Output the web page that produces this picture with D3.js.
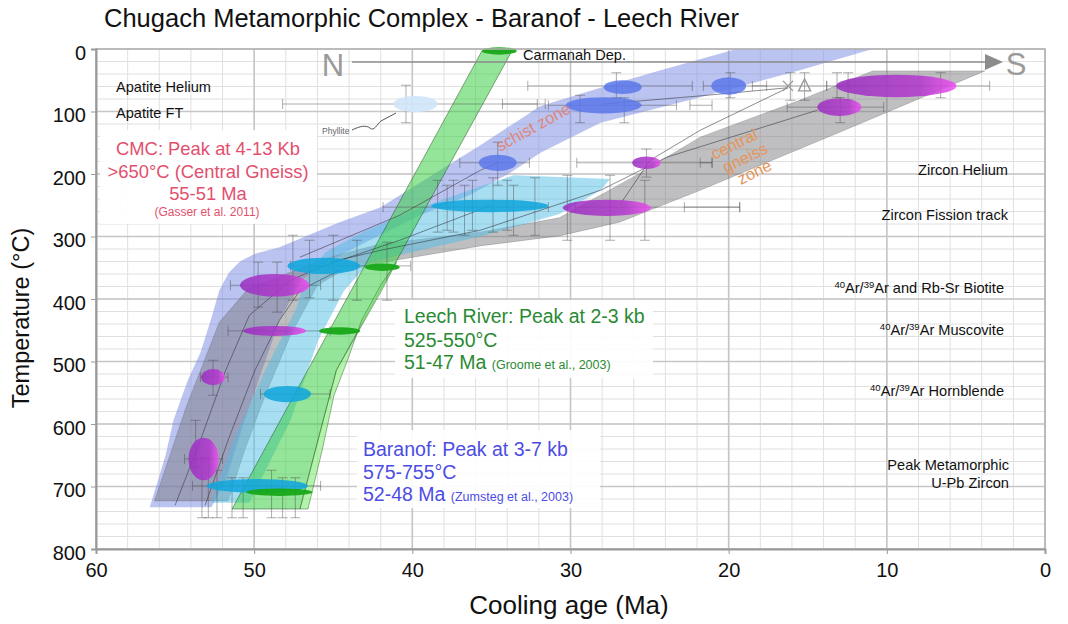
<!DOCTYPE html>
<html>
<head>
<meta charset="utf-8">
<script src="https://cdn.jsdelivr.net/npm/d3@7/dist/d3.min.js"></script>
<style>
  body { margin: 0; background: #fff; }
  svg { display: block; font-family: "Liberation Sans", Arial, Helvetica, sans-serif; }
</style>
</head>
<body>
<svg id="chart" width="1068" height="624"></svg>
<script>
// ---------- axes ----------
const ageTicks = [60, 50, 40, 30, 20, 10, 0];
const tempTicks = [0, 100, 200, 300, 400, 500, 600, 700, 800];

// ---------- cooling paths (age Ma, temperature °C) ----------
const schistZoneBand = [
  [56.6,733],[55.6,650],[55.1,594],[54.2,530],[53.4,486],[52.7,430],[52.2,386],[51.6,358],[50.9,340],
  [49.9,327],[48.4,317],[44.6,277],[42.0,253],
  [38.25,194],[35.7,154],[31.9,91],[28.1,62],[24.3,34],[19.5,0],[10.9,0],
  [15.5,34],[21.8,77],[28.1,118],[31.9,166],[33.8,198],[36.4,234],[39.5,266],[42.7,306],
  [45.8,346],[47.1,373],[48.4,434],[49.5,514],[50.6,594],[51.8,690],[52.7,733]
];
const gneissZoneBand = [
  [56.3,723],[54.3,573],[52.2,437],[50.4,384],[47.7,357],[45.2,333],[42.0,312],[35.7,293],
  [30.7,270],[26.05,205],[21.8,141],[15.5,82],[10.9,35],[3.8,35],
  [12.3,126],[21.8,226],[26.9,277],[30.7,299],[35.7,315],[42.0,342],[44.6,357],[46.0,378],
  [47.7,458],[49.3,554],[50.6,642],[51.65,723]
];
const baranofBand = [
  [33.6,202],[27.5,208],[28.1,226],[30.7,264],[35.7,300],[39.5,322],[42.7,341],[44.3,386],[45.96,466],
  [47.7,594],[50.3,726],[52.7,726],[51.3,626],[49.3,514],[47.3,413],[46.8,370],[45.5,325],
  [42.9,290],[39.5,254],[36.4,226]
];
const leechRiverBand = [
  [35.6,3],[33.7,3],[44.8,514],[47.1,736],[51.4,736]
];
const leechRiverEdge = [
  [41.0,341],[42.0,378],[43.2,434],[44.1,498],[44.95,554],[45.7,642],[46.6,736],
  [47.1,736],[45.8,610],[44.8,514],[43.5,456],[42.0,389]
];

// ---------- connecting paths between samples ----------
const pathLines = [
  [[55.0,730],[53.4,626],[51.8,514],[50.3,426],[47.7,370],[45.6,347],[40.8,306],[35.1,251]],
  [[53.1,730],[51.65,626],[49.95,514],[48.4,434],[47.1,386],[44.6,354]],
  [[47.1,333],[40.8,266],[35.7,194],[34.6,182]],
  [[27.9,88],[21.8,75],[16.25,62]],
  [[16.25,62],[21.8,130],[24.97,178],[26.9,250]],
  [[14.4,98],[23.9,173],[28.1,226],[35.7,290],[42.0,322],[45.2,341]]
];

// ---------- samples: [age, temp, age half-width, temp half-width] ----------
const leechRiverAges = [[34.5,3,1.1,6],[41.9,349,1.1,6],[44.6,451,1.3,6],[48.4,709,2.1,6]];
const phylliteAges   = [[39.8,88,1.4,13]];
const schistAges     = [[26.7,61,1.2,11],[27.9,90,2.4,13],[20.0,59,1.1,14],[34.6,182,1.2,13]];
const gneissAges     = [[9.4,59,3.8,18],[13.0,93,1.4,14],[25.2,182,0.9,10],[27.7,254,2.8,13],
                        [48.7,378,2.2,18],[48.7,451,2.0,8],[52.6,525,0.75,13],[53.2,656,0.95,34]];
const baranofAges    = [[35.1,251,3.7,10],[45.6,347,2.3,13],[47.9,552,1.5,13],[49.8,699,3.2,11]];
const otherAges      = [[16.25,59,'x'],[15.2,59,'tri']];

// ---------- uncertainties ----------
// horizontal: [temp, age from, age to]
const ageErrors = [
  [88,48.2,31.6],[88,34.3,32.1],[59,32.7,22.3],[59,21.6,17.6],[59,18.5,13.8],[59,13.8,3.5],
  [90,31.4,23.3],[90,22.45,21.05],[93,16.3,10.2],[182,37.0,32.6],[182,29.6,21.05],[182,21.8,21.05],
  [253,41.85,31.4],[253,29.7,19.3],[253,22.8,19.3],[378,51.5,45.8],[451,51.65,45.2],[347,47.7,40.1],
  [525,53.4,51.65],[699,53.9,45.8],[656,54.4,52.0],[552,49.6,45.2]
];
// vertical: [age, temp from, temp to]
const tempErrors = [
  [40.4,58,118],[27.1,38,78],[29.4,74,118],[26.6,78,118],[19.9,38,78],[34.6,149,218],
  [25.2,160,205],[12.45,38,82],[12.95,78,118],[13.15,38,78],[6.6,38,78],[16.1,38,82],[15.2,38,82],
  [38.4,210,293],[37.8,218,290],[37.4,210,293],[36.7,218,298],[36.2,210,290],[34.9,206,293],
  [34.0,210,290],[33.6,218,298],[32.25,206,298],[30.2,202,306],[27.5,202,306],[25.3,210,306],
  [47.55,298,402],[46.5,306,398],[45.0,298,402],[43.5,306,402],[41.6,309,402],
  [49.75,341,413],[48.55,341,421],[52.6,498,554],[53.7,594,669],
  [53.3,654,750],[52.9,654,750],[52.35,674,750],[51.4,686,750],[50.7,686,750],
  [48.9,674,750],[48.2,686,750],[47.4,686,750]
];

// ---------- chart ----------
const x = d3.scaleLinear().domain([60, 0]).range([96, 1045]);
const y = d3.scaleLinear().domain([0, 800]).range([49, 549]);
const svg = d3.select('#chart');

const defs = svg.append('defs');
const mg = defs.append('linearGradient').attr('id', 'gneissFill').attr('x1', 0).attr('x2', 1).attr('y1', 0).attr('y2', 0);
mg.append('stop').attr('offset', '0%').attr('stop-color', '#9a2ec2');
mg.append('stop').attr('offset', '70%').attr('stop-color', '#b236cc');
mg.append('stop').attr('offset', '100%').attr('stop-color', '#f04ef2');

// graph-paper grid
const grid = svg.append('g');
grid.selectAll('.vmin').data(d3.range(0, 61, 2)).join('line')
  .attr('x1', d => x(d)).attr('x2', d => x(d)).attr('y1', y(0)).attr('y2', y(800))
  .attr('stroke', '#e0e0e0').attr('stroke-width', 1);
grid.selectAll('.hmin').data(d3.range(0, 801, 20)).join('line')
  .attr('y1', d => y(d)).attr('y2', d => y(d)).attr('x1', x(60)).attr('x2', x(0))
  .attr('stroke', '#e0e0e0').attr('stroke-width', 1);
grid.selectAll('.vmaj').data(ageTicks).join('line')
  .attr('x1', d => x(d)).attr('x2', d => x(d)).attr('y1', y(0)).attr('y2', y(800))
  .attr('stroke', '#c6c6c6').attr('stroke-width', 1.6);
grid.selectAll('.hmaj').data(tempTicks).join('line')
  .attr('y1', d => y(d)).attr('y2', d => y(d)).attr('x1', x(60)).attr('x2', x(0))
  .attr('stroke', '#c6c6c6').attr('stroke-width', 1.6);

// white panels behind the annotations
const panels = svg.append('g').attr('fill', '#fff').attr('opacity', 0.93);
panels.append('rect').attr('x', 100).attr('y', 130).attr('width', 217).attr('height', 94);
panels.append('rect').attr('x', 395).attr('y', 300).attr('width', 258).attr('height', 78);
panels.append('rect').attr('x', 357).attr('y', 430).attr('width', 243).attr('height', 78);

// cooling bands
const line = d3.line().x(d => x(d[0])).y(d => y(d[1]));
const band = (pts, fill, op, stroke) => svg.append('path')
  .attr('d', line(pts) + 'Z').attr('fill', fill).attr('fill-opacity', op)
  .attr('stroke', stroke || 'none').attr('stroke-width', 0.7);
band(schistZoneBand, 'rgb(120,136,225)', 0.5);
band(gneissZoneBand, 'rgb(118,118,124)', 0.47, 'rgba(60,60,60,0.3)');
band(baranofBand, 'rgb(80,190,230)', 0.5);
band(leechRiverBand, 'rgb(60,205,70)', 0.55, 'rgba(30,80,30,0.7)');
band(leechRiverEdge, 'rgb(130,235,115)', 0.6, 'rgba(30,80,30,0.6)');

// connecting paths
svg.append('g').selectAll('path').data(pathLines).join('path')
  .attr('d', line).attr('fill', 'none').attr('stroke', 'rgba(50,50,60,0.7)').attr('stroke-width', 0.8);

// error bars
const eb = svg.append('g').attr('stroke', 'rgba(70,70,70,0.5)').attr('stroke-width', 0.9);
ageErrors.forEach(([t, a0, a1]) => {
  eb.append('line').attr('x1', x(a0)).attr('x2', x(a1)).attr('y1', y(t)).attr('y2', y(t));
  [a0, a1].forEach(a => eb.append('line').attr('x1', x(a)).attr('x2', x(a)).attr('y1', y(t) - 5).attr('y2', y(t) + 5));
});
tempErrors.forEach(([a, t0, t1]) => {
  eb.append('line').attr('x1', x(a)).attr('x2', x(a)).attr('y1', y(t0)).attr('y2', y(t1));
  [t0, t1].forEach(t => eb.append('line').attr('x1', x(a) - 5).attr('x2', x(a) + 5).attr('y1', y(t)).attr('y2', y(t)));
});

// samples
const ell = (data, fill, op) => svg.append('g').selectAll('ellipse').data(data).join('ellipse')
  .attr('cx', d => x(d[0])).attr('cy', d => y(d[1]))
  .attr('rx', d => x(d[0] - d[2]) - x(d[0])).attr('ry', d => y(d[3]) - y(0))
  .attr('fill', fill).attr('fill-opacity', op);
ell(phylliteAges, '#cfe6f8', 0.9);
ell(schistAges, '#5a78ea', 0.85);
ell(gneissAges, 'url(#gneissFill)', 0.85);
ell(baranofAges, '#12a6dc', 0.88);
ell(leechRiverAges, '#18a818', 0.95);

const mk = svg.append('g').attr('stroke', '#9a9a9a').attr('stroke-width', 1.4).attr('fill', 'none');
otherAges.forEach(([a, t, s]) => {
  const cx = x(a), cy = y(t);
  if (s === 'x') {
    mk.append('path').attr('d', `M${cx-5},${cy-5}L${cx+5},${cy+5}M${cx-5},${cy+5}L${cx+5},${cy-5}`);
  } else {
    mk.append('path').attr('d', `M${cx},${cy-7}L${cx+6},${cy+5}L${cx-6},${cy+5}Z`);
  }
});

// N -> S transect arrow
const ar = svg.append('g');
ar.append('line').attr('x1', 352).attr('x2', 988).attr('y1', 62).attr('y2', 62)
  .attr('stroke', '#8c8c8c').attr('stroke-width', 1.5);
ar.append('path').attr('d', 'M985,54L1003,62L985,70Z').attr('fill', '#8c8c8c');
ar.append('text').attr('x', 333).attr('y', 76).attr('text-anchor', 'middle')
  .attr('font-size', 31).attr('fill', '#9a9a9a').text('N');
ar.append('text').attr('x', 1016).attr('y', 75).attr('text-anchor', 'middle')
  .attr('font-size', 31).attr('fill', '#9a9a9a').text('S');

// plot frame
svg.append('rect').attr('x', x(60)).attr('y', y(0)).attr('width', x(0) - x(60)).attr('height', y(800) - y(0))
  .attr('fill', 'none').attr('stroke', '#b4b4b4').attr('stroke-width', 1.5);

// axes
const yAxis = svg.append('g').attr('transform', `translate(${x(60)},0)`)
  .call(d3.axisLeft(y).tickValues(tempTicks).tickSize(5).tickPadding(5));
const xAxis = svg.append('g').attr('transform', `translate(0,${y(800)})`)
  .call(d3.axisBottom(x).tickValues(ageTicks).tickSize(5).tickPadding(9));
[yAxis, xAxis].forEach(g => {
  g.select('.domain').attr('stroke', '#999').attr('stroke-width', 2);
  g.selectAll('.tick line').attr('stroke', '#999');
  g.selectAll('.tick text').attr('font-size', 20).attr('fill', '#111')
    .attr('font-family', '"Liberation Sans", Arial, sans-serif');
});
yAxis.selectAll('.tick text').attr('dy', '0.5em');

// titles
svg.append('text').attr('x', 104).attr('y', 27).attr('font-size', 25.5).attr('fill', '#111')
  .text('Chugach Metamorphic Complex - Baranof - Leech River');
svg.append('text').attr('x', 569).attr('y', 614).attr('text-anchor', 'middle').attr('font-size', 26).attr('fill', '#111')
  .text('Cooling age (Ma)');
svg.append('text').attr('transform', 'translate(29,318) rotate(-90)').attr('text-anchor', 'middle')
  .attr('font-size', 23.5).attr('fill', '#111').text('Temperature (°C)');

// system labels
const lab = svg.append('g').attr('font-size', 14.6).attr('fill', '#111');
lab.append('text').attr('x', 116).attr('y', 92).text('Apatite Helium');
lab.append('text').attr('x', 116).attr('y', 118).text('Apatite FT');
const rlab = lab.append('g').attr('text-anchor', 'end');
rlab.append('text').attr('x', 1008).attr('y', 175).text('Zircon Helium');
rlab.append('text').attr('x', 1008).attr('y', 220).text('Zircon Fission track');
const arLabel = (yy, rest) => {
  const t = rlab.append('text').attr('x', 1004).attr('y', yy);
  t.append('tspan').attr('font-size', 9.5).attr('dy', -5).text('40');
  t.append('tspan').attr('dy', 5).text('Ar/');
  t.append('tspan').attr('font-size', 9.5).attr('dy', -5).text('39');
  t.append('tspan').attr('dy', 5).text('Ar ' + rest);
};
arLabel(293, 'and Rb-Sr Biotite');
arLabel(335, 'Muscovite');
arLabel(396, 'Hornblende');
rlab.append('text').attr('x', 1009).attr('y', 470).text('Peak Metamorphic');
rlab.append('text').attr('x', 1009).attr('y', 488).text('U-Pb Zircon');
lab.append('text').attr('x', 523).attr('y', 60).text('Carmanah Dep.');

// phyllite label and leader
svg.append('text').attr('x', 322).attr('y', 134).attr('font-size', 8.5).attr('fill', '#666').text('Phyllite');
svg.append('path').attr('d', 'M352,130 C360,126 366,125 370,128 C374,132 377,124 381,121 L396,113')
  .attr('fill', 'none').attr('stroke', '#555').attr('stroke-width', 1);

// zone labels
svg.append('text').attr('transform', 'translate(536,132) rotate(-29)').attr('text-anchor', 'middle')
  .attr('font-size', 16.5).attr('fill', '#e0806e').attr('fill-opacity', 0.9).text('schist zone');
const cg = svg.append('g').attr('transform', 'translate(744,160) rotate(-26)')
  .attr('font-size', 16.5).attr('fill', '#e6955a').attr('text-anchor', 'middle');
cg.append('text').attr('x', -2).attr('y', -13).text('central');
cg.append('text').attr('x', 2).attr('y', 4).text('gneiss');
cg.append('text').attr('x', 4).attr('y', 21).text('zone');

// annotations
const cmc = svg.append('g').attr('fill', '#e2506e').attr('text-anchor', 'middle');
cmc.append('text').attr('x', 208).attr('y', 155).attr('font-size', 18.4).text('CMC: Peak at 4-13 Kb');
cmc.append('text').attr('x', 208).attr('y', 178).attr('font-size', 18.4).text('>650°C (Central Gneiss)');
cmc.append('text').attr('x', 208).attr('y', 200).attr('font-size', 18.4).text('55-51 Ma');
cmc.append('text').attr('x', 207).attr('y', 216).attr('font-size', 12).text('(Gasser et al. 2011)');

const lr = svg.append('g').attr('fill', '#2a8a32').attr('font-size', 19.5);
lr.append('text').attr('x', 404).attr('y', 323).text('Leech River: Peak at 2-3 kb');
lr.append('text').attr('x', 404).attr('y', 347).text('525-550°C');
const lr3 = lr.append('text').attr('x', 404).attr('y', 369).text('51-47 Ma ');
lr3.append('tspan').attr('font-size', 12.5).text('(Groome et al., 2003)');

const bf = svg.append('g').attr('fill', '#4c4ce4').attr('font-size', 19.5);
bf.append('text').attr('x', 363).attr('y', 456).text('Baranof: Peak at 3-7 kb');
bf.append('text').attr('x', 363).attr('y', 479).text('575-755°C');
const bf3 = bf.append('text').attr('x', 363).attr('y', 501).text('52-48 Ma ');
bf3.append('tspan').attr('font-size', 12.5).text('(Zumsteg et al., 2003)');
</script>
</body>
</html>
